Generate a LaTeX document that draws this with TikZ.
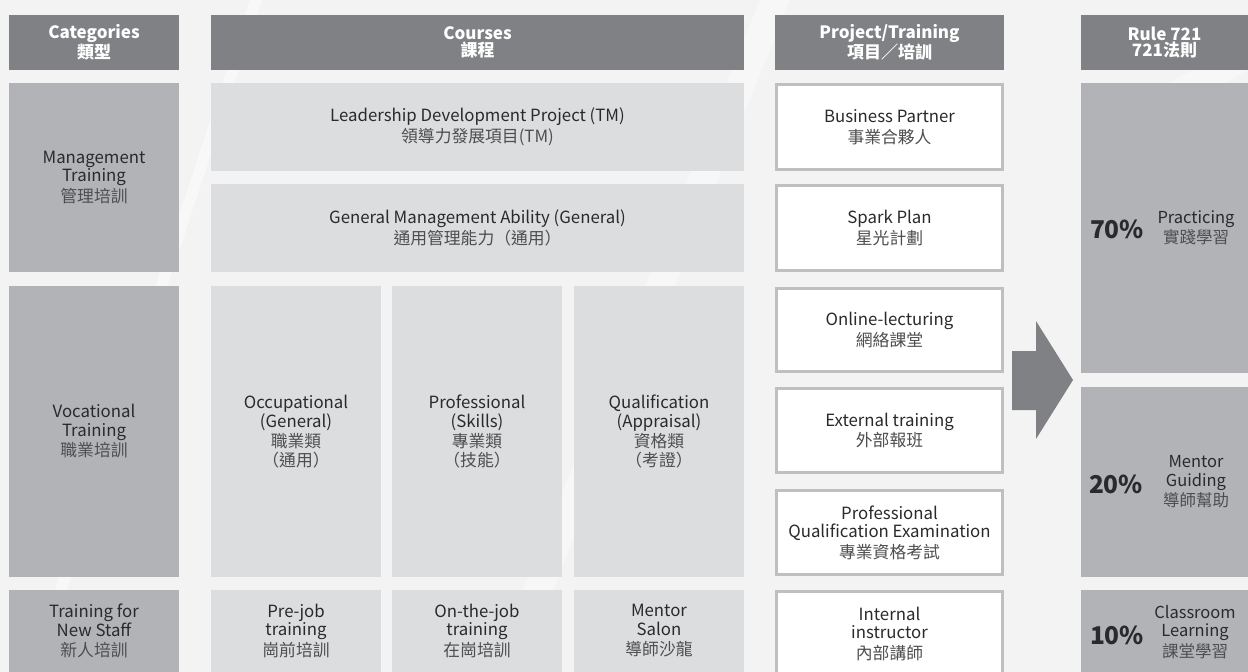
\documentclass[tikz,border=0pt]{standalone}
\usepackage{fontspec}
\setmainfont{Noto Sans CJK TC}
\definecolor{hdr}{HTML}{808184}
\definecolor{cat}{HTML}{B2B3B6}
\definecolor{crs}{HTML}{DCDDDF}
\definecolor{pbord}{HTML}{BEBFC1}
\definecolor{txt}{HTML}{2A2A2C}
\definecolor{zhc}{HTML}{4E4E50}
\definecolor{bg}{HTML}{F3F3F3}
\newcommand\zh[1]{{\color{zhc}#1}}
\begin{document}
\begin{tikzpicture}[x=1pt,y=-1pt,
  box/.style={anchor=north west, inner sep=0pt, outer sep=0pt, align=center, text=txt,
              font=\fontsize{16.8}{18.5}\selectfont},
  hdrbox/.style={box, fill=hdr, text=white, font=\bfseries\fontsize{17}{16.5}\selectfont},
  catbox/.style={box, fill=cat},
  crsbox/.style={box, fill=crs},
  projbox/.style={box, fill=white, draw=pbord, line width=3pt},
  rulebox/.style={box, fill=cat},
  pct/.style={anchor=center, inner sep=0pt, text=txt, font=\bfseries\fontsize{24.5}{25}\selectfont},
  ruletxt/.style={anchor=center, inner sep=0pt, align=center, text=txt, font=\fontsize{16.5}{18.5}\selectfont}]
% background
\fill[bg] (0,0) rectangle (1248,672);
\useasboundingbox (0,0) rectangle (1248,672);
\fill[white, opacity=.45] (250,0) -- (262,0) -- (40,672) -- (28,672) -- cycle;
\fill[white, opacity=.35] (760,0) -- (790,0) -- (520,672) -- (490,672) -- cycle;
\fill[white, opacity=.35] (1100,120) -- (1248,40) -- (1248,70) -- (1110,150) -- cycle;

% headers
\node[hdrbox, minimum width=170pt, minimum height=55pt] (hcat) at (9,15) {Categories\\類型};
\node[hdrbox, minimum width=533pt, minimum height=55pt] (hcrs) at (211,15) {Courses\\課程};
\node[hdrbox, minimum width=229pt, minimum height=55pt] (hprj) at (775,15) {Project/Training\\項目／培訓};
\node[hdrbox, minimum width=167pt, minimum height=55pt] (hrul) at (1081,15) {Rule 721\\721法則};

% categories
\node[catbox, minimum width=170pt, minimum height=189pt] (cmgmt) at (9,83)
  {Management\\Training\\[2pt]\zh{管理培訓}};
\node[catbox, minimum width=170pt, minimum height=291pt] (cvoc) at (9,286)
  {Vocational\\Training\\[2pt]\zh{職業培訓}};
\node[catbox, minimum width=170pt, minimum height=82pt] (cnew) at (9,590)
  {Training for\\New Staff\\[2pt]\zh{新人培訓}};

% courses
\node[crsbox, minimum width=533pt, minimum height=88pt] (lead) at (211,83)
  {Leadership Development Project (TM)\\[2pt]\zh{領導力發展項目(TM)}};
\node[crsbox, minimum width=533pt, minimum height=88pt] (gen) at (211,184)
  {General Management Ability (General)\\[2pt]\zh{通用管理能力（通用）}};
\node[crsbox, minimum width=170pt, minimum height=291pt] (occ) at (211,286)
  {Occupational\\(General)\\[2pt]\zh{職業類}\\\zh{（通用）}};
\node[crsbox, minimum width=170pt, minimum height=291pt] (prof) at (392,286)
  {Professional\\(Skills)\\[2pt]\zh{專業類}\\\zh{（技能）}};
\node[crsbox, minimum width=170pt, minimum height=291pt] (qual) at (574,286)
  {Qualification\\(Appraisal)\\[2pt]\zh{資格類}\\\zh{（考證）}};
\node[crsbox, minimum width=170pt, minimum height=82pt] (pre) at (211,590)
  {Pre-job\\training\\[2pt]\zh{崗前培訓}};
\node[crsbox, minimum width=170pt, minimum height=82pt] (onjob) at (392,590)
  {On-the-job\\training\\[2pt]\zh{在崗培訓}};
\node[crsbox, minimum width=170pt, minimum height=82pt] (salon) at (574,590)
  {Mentor\\Salon\\[2pt]\zh{導師沙龍}};

% project / training
\node[projbox, minimum width=226pt, minimum height=85pt] (bp) at (776.5,84.5)
  {Business Partner\\[2pt]\zh{事業合夥人}};
\node[projbox, minimum width=226pt, minimum height=85pt] (spark) at (776.5,185.5)
  {Spark Plan\\[2pt]\zh{星光計劃}};
\node[projbox, minimum width=226pt, minimum height=83pt] (online) at (776.5,288.5)
  {Online-lecturing\\[2pt]\zh{網絡課堂}};
\node[projbox, minimum width=226pt, minimum height=84pt] (ext) at (776.5,388.5)
  {External training\\[2pt]\zh{外部報班}};
\node[projbox, minimum width=226pt, minimum height=84pt] (pqe) at (776.5,490.5)
  {Professional\\Qualification Examination\\[2pt]\zh{專業資格考試}};
\node[projbox, minimum width=226pt, minimum height=84pt] (inst) at (776.5,591.5)
  {Internal\\instructor\\[2pt]\zh{內部講師}};

% arrow
\fill[hdr] (1012,351) -- (1036,351) -- (1036,321) -- (1073,380) -- (1036,439)
  -- (1036,410) -- (1012,410) -- cycle;

% rule 721
\node[rulebox, minimum width=167pt, minimum height=290pt] (r70) at (1081,83) {};
\node[rulebox, minimum width=167pt, minimum height=190pt] (r20) at (1081,387) {};
\node[rulebox, minimum width=167pt, minimum height=82pt] (r10) at (1081,590) {};
\node[pct] (p70) at (1117,229) {70\%};
\node[ruletxt] (t70) at (1196,228) {Practicing\\[2pt]\zh{實踐學習}};
\node[pct] (p20) at (1116,484) {20\%};
\node[ruletxt] (t20) at (1196,482) {Mentor\\Guiding\\[2pt]\zh{導師幫助}};
\node[pct] (p10) at (1117,635) {10\%};
\node[ruletxt] (t10) at (1195,632) {Classroom\\Learning\\[2pt]\zh{課堂學習}};
\end{tikzpicture}
\end{document}
